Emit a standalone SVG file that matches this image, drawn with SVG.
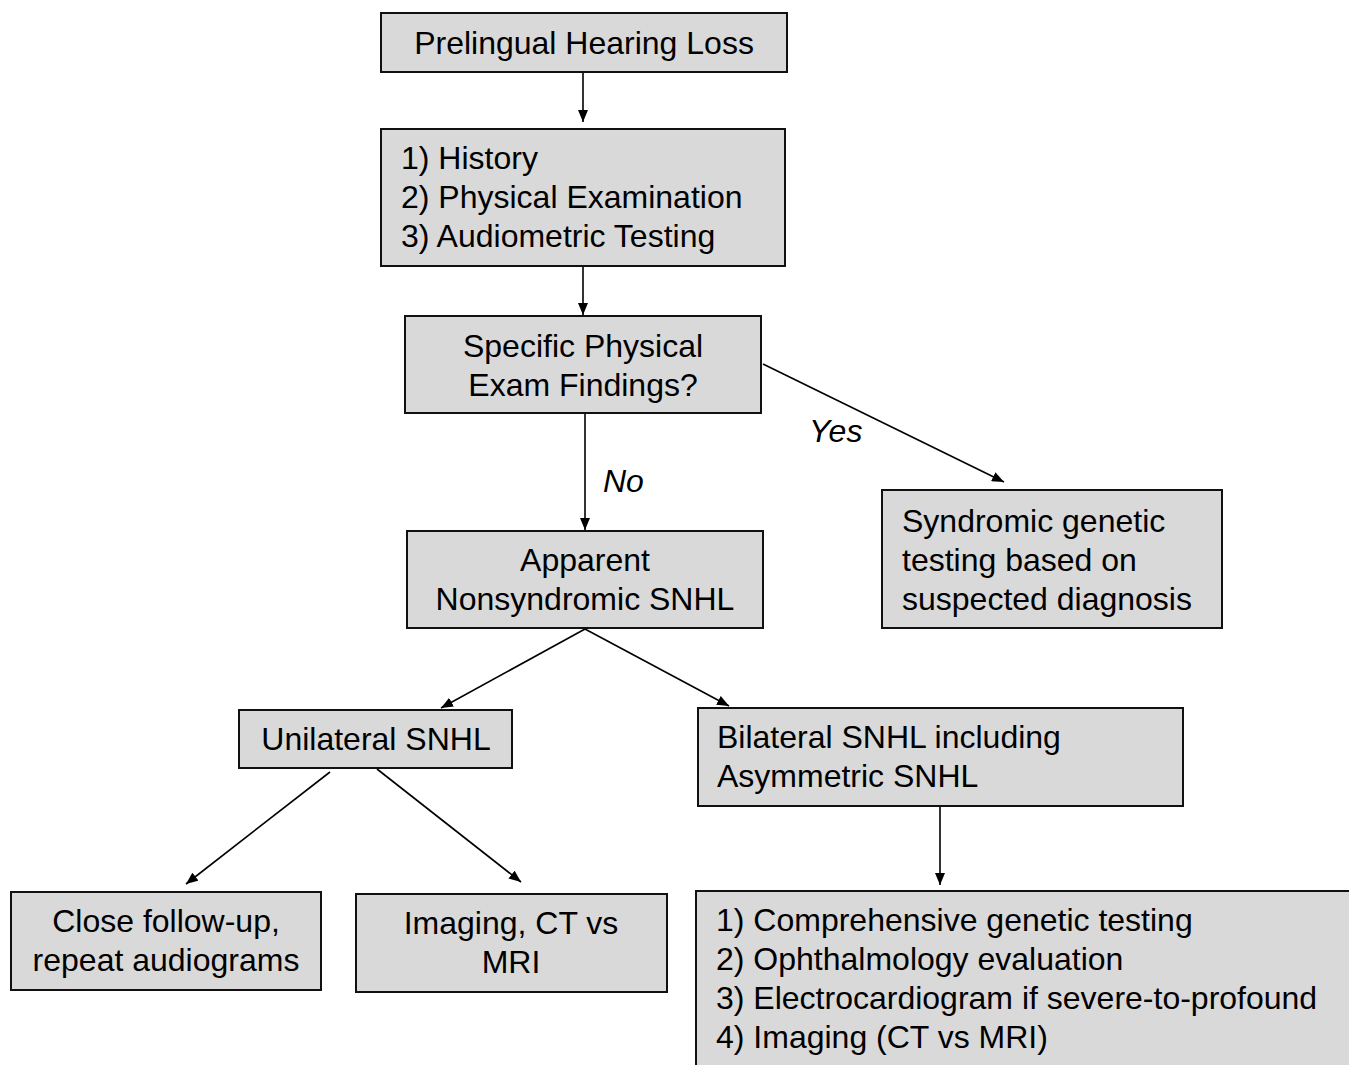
<svg xmlns="http://www.w3.org/2000/svg" width="1349" height="1065" viewBox="0 0 1349 1065">
<style>
.box{fill:#d9d9d9;stroke:#111;stroke-width:2}
.t{font-family:"Liberation Sans",Arial,Helvetica,sans-serif;font-size:32px;fill:#000}
.c{text-anchor:middle}
.i{font-style:italic}
.ln{stroke:#000;stroke-width:1.6;fill:none;marker-end:url(#ah)}
</style>
<defs>
<marker id="ah" markerUnits="userSpaceOnUse" markerWidth="12" markerHeight="10" refX="12" refY="5" orient="auto">
<path d="M0,0 L12,5 L0,10 z" fill="#000"/>
</marker>
</defs>
<rect width="1349" height="1065" fill="#fff"/>
<g id="connectors">
<line class="ln" x1="583" y1="73" x2="583" y2="122"/>
<line class="ln" x1="583" y1="267" x2="583" y2="315"/>
<line class="ln" x1="585" y1="414" x2="585" y2="530"/>
<line class="ln" x1="763" y1="364" x2="1004" y2="482"/>
<line class="ln" x1="585" y1="629" x2="441" y2="708"/>
<line class="ln" x1="585" y1="629" x2="729" y2="706"/>
<line class="ln" x1="330" y1="772" x2="186" y2="884"/>
<line class="ln" x1="377" y1="769" x2="521" y2="882"/>
<line class="ln" x1="940" y1="807" x2="940" y2="885"/>
<text class="t i" x="603" y="492">No</text>
<text class="t i" x="809" y="442">Yes</text>
</g>
<g id="n1">
<rect class="box" x="381" y="13" width="406" height="59"/>
<text class="t c" x="584" y="54">Prelingual Hearing Loss</text>
</g>
<g id="n2">
<rect class="box" x="381" y="129" width="404" height="137"/>
<text class="t" x="401" y="169">1) History</text>
<text class="t" x="401" y="208">2) Physical Examination</text>
<text class="t" x="401" y="247">3) Audiometric Testing</text>
</g>
<g id="n3">
<rect class="box" x="405" y="316" width="356" height="97"/>
<text class="t c" x="583" y="357">Specific Physical</text>
<text class="t c" x="583" y="396">Exam Findings?</text>
</g>
<g id="n4">
<rect class="box" x="882" y="490" width="340" height="138"/>
<text class="t" x="902" y="532">Syndromic genetic</text>
<text class="t" x="902" y="571">testing based on</text>
<text class="t" x="902" y="610">suspected diagnosis</text>
</g>
<g id="n5">
<rect class="box" x="407" y="531" width="356" height="97"/>
<text class="t c" x="585" y="571">Apparent</text>
<text class="t c" x="585" y="610">Nonsyndromic SNHL</text>
</g>
<g id="n6">
<rect class="box" x="239" y="710" width="273" height="58"/>
<text class="t c" x="376" y="750">Unilateral SNHL</text>
</g>
<g id="n7">
<rect class="box" x="698" y="708" width="485" height="98"/>
<text class="t" x="717" y="748">Bilateral SNHL including</text>
<text class="t" x="717" y="787">Asymmetric SNHL</text>
</g>
<g id="n8">
<rect class="box" x="11" y="892" width="310" height="98"/>
<text class="t c" x="166" y="932">Close follow-up,</text>
<text class="t c" x="166" y="971">repeat audiograms</text>
</g>
<g id="n9">
<rect class="box" x="356" y="894" width="311" height="98"/>
<text class="t c" x="511" y="934">Imaging, CT vs</text>
<text class="t c" x="511" y="973">MRI</text>
</g>
<g id="n10">
<rect class="box" x="696" y="891" width="700" height="220"/>
<text class="t" x="716" y="931">1) Comprehensive genetic testing</text>
<text class="t" x="716" y="970">2) Ophthalmology evaluation</text>
<text class="t" x="716" y="1009">3) Electrocardiogram if severe-to-profound</text>
<text class="t" x="716" y="1048">4) Imaging (CT vs MRI)</text>
</g>
</svg>
